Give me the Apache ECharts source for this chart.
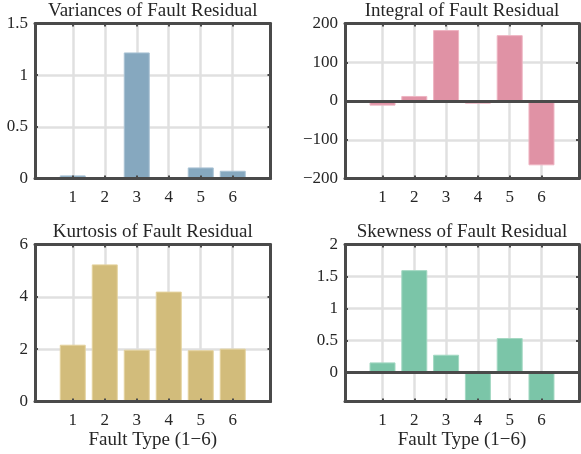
<!DOCTYPE html>
<html><head><meta charset="utf-8">
<script src="https://cdn.jsdelivr.net/npm/echarts@6/dist/echarts.min.js"></script>
<style>html,body{margin:0;padding:0;background:#fff}#c{width:581px;height:454px}</style>
</head><body><div id="c"></div>
<script>
const categories = [1, 2, 3, 4, 5, 6];
const variances = [0.03, 0.004, 1.22, 0.003, 0.107, 0.075];
const integrals = [-12, 13, 183, -7, 170, -166];
const kurtosis = [2.17, 5.24, 1.98, 4.2, 1.96, 2.02];
const skewness = [0.16, 1.6, 0.28, -0.5, 0.54, -0.5];
const titles = ['Variances of Fault Residual', 'Integral of Fault Residual', 'Kurtosis of Fault Residual', 'Skewness of Fault Residual'];
const yTicks = [[0, 0.5, 1, 1.5], [-200, -100, 0, 100, 200], [0, 2, 4, 6], [0, 0.5, 1, 1.5, 2]];
const yRanges = [[0, 1.5], [-200, 200], [0, 6], [-0.45, 2]];
const xRange = [-0.18, 7.18];
const xName = 'Fault Type (1\u22126)';

const FONT = 'Liberation Serif';
const DARK = '#4a4a4a';
const TEXT = '#262626';
const GRIDC = '#e0e0e0';
const colors = ['#86a8bf', '#e092a5', '#d2bc7b', '#7bc5a8'];
const edges = ['#a9c2d4', '#eeb4c2', '#e4d29e', '#a3d8c2'];
const grids = [
  {left: 35, top: 23.5, width: 235.5, height: 155},
  {left: 345, top: 23.5, width: 234, height: 155},
  {left: 35, top: 244.5, width: 235.5, height: 157},
  {left: 345, top: 244.5, width: 234, height: 157}
];
const values = [variances, integrals, kurtosis, skewness];
const fmt = v => String(v).replace('-', '\u2212');

const option = {animation: false, grid: [], xAxis: [], yAxis: [], series: [], title: []};
for (let i = 0; i < 4; i++) {
  const g = grids[i];
  option.grid.push(Object.assign({containLabel: false, show: false}, g));
  option.title.push({
    text: titles[i], left: g.left + g.width / 2, top: g.top - 22, textAlign: 'center', padding: 0,
    textStyle: {fontFamily: FONT, fontSize: 19, fontWeight: 'normal', color: TEXT}
  });
  option.xAxis.push({
    type: 'value', gridIndex: i, position: 'bottom', min: xRange[0], max: xRange[1], z: 5,
    axisLine: {show: true, onZero: false, lineStyle: {color: DARK, width: 3}},
    axisTick: {show: true, inside: true, length: 3, customValues: categories, lineStyle: {color: DARK, width: 2}},
    axisLabel: {show: true, margin: 11, customValues: categories, fontFamily: FONT, fontSize: 17, color: TEXT},
    splitLine: {show: false},
    name: i >= 2 ? xName : '', nameLocation: 'middle', nameGap: 29,
    nameTextStyle: {fontFamily: FONT, fontSize: 19, color: TEXT}
  });
  option.xAxis.push({
    type: 'value', gridIndex: i, position: 'top', min: xRange[0], max: xRange[1], z: 0,
    axisLine: {show: true, onZero: false, lineStyle: {color: DARK, width: 3}},
    axisTick: {show: true, inside: true, length: 3, customValues: categories, lineStyle: {color: DARK, width: 2}},
    axisLabel: {show: false, customValues: categories},
    splitLine: {show: true, lineStyle: {color: GRIDC, width: 2.5}}
  });
  option.yAxis.push({
    type: 'value', gridIndex: i, position: 'left', min: yRanges[i][0], max: yRanges[i][1], z: 5,
    axisLine: {show: true, onZero: false, lineStyle: {color: DARK, width: 3}},
    axisTick: {show: true, inside: true, length: 3, customValues: yTicks[i], lineStyle: {color: DARK, width: 2}},
    axisLabel: {show: true, margin: 7, customValues: yTicks[i], formatter: fmt, fontFamily: FONT, fontSize: 17, color: TEXT},
    splitLine: {show: false}
  });
  option.yAxis.push({
    type: 'value', gridIndex: i, position: 'right', min: yRanges[i][0], max: yRanges[i][1], z: 0,
    axisLine: {show: true, onZero: false, lineStyle: {color: DARK, width: 3}},
    axisTick: {show: true, inside: true, length: 3, customValues: yTicks[i], lineStyle: {color: DARK, width: 2}},
    axisLabel: {show: false, customValues: yTicks[i]},
    splitLine: {show: true, lineStyle: {color: GRIDC, width: 2.5}}
  });
  const s = {
    type: 'bar', xAxisIndex: 2 * i, yAxisIndex: 2 * i, z: 2,
    barWidth: 26,
    itemStyle: {color: colors[i], borderColor: edges[i], borderWidth: 1},
    data: categories.map((c, k) => [c, values[i][k]])
  };
  if (i === 1 || i === 3) {
    s.markLine = {
      silent: true, symbol: 'none', z: 10, label: {show: false},
      lineStyle: {color: DARK, width: 3, type: 'solid'},
      data: [{yAxis: 0}]
    };
  }
  option.series.push(s);
}
const chart = echarts.init(document.getElementById('c'), null, {renderer: 'canvas'});
chart.setOption(option);
</script></body></html>
